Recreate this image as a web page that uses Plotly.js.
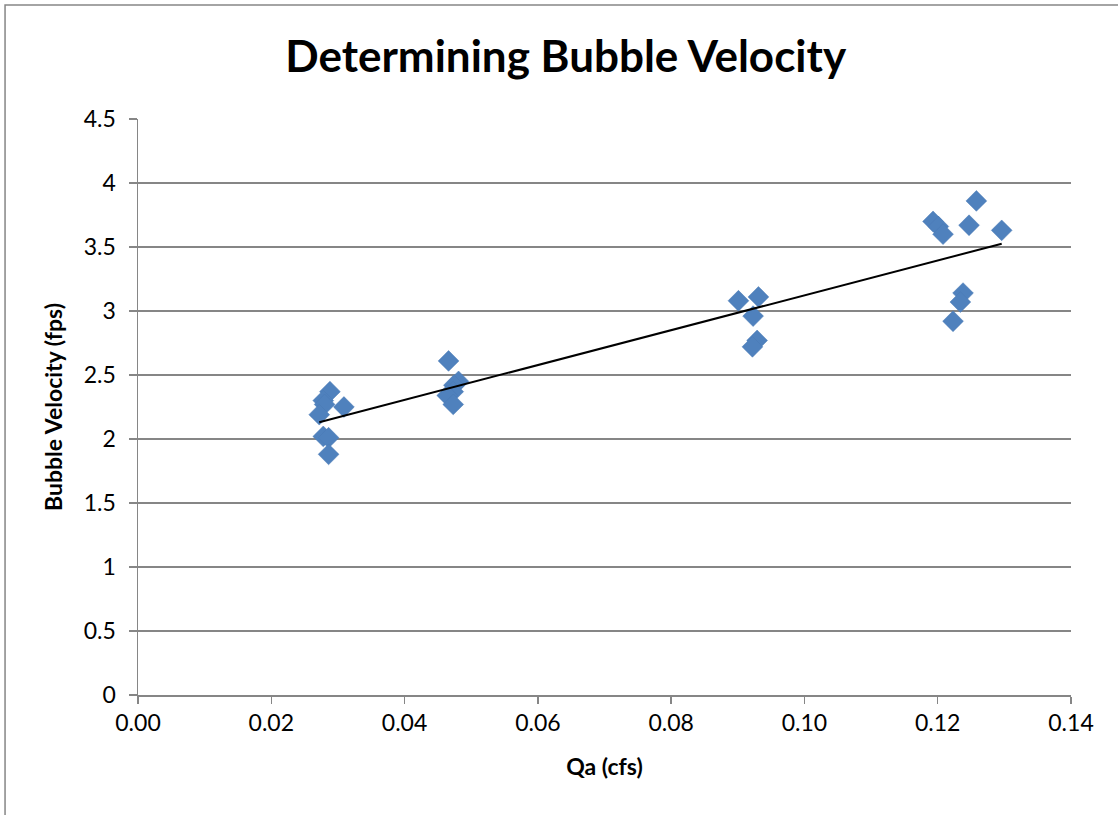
<!DOCTYPE html>
<html>
<head>
<meta charset="utf-8">
<script src="https://cdn.plot.ly/plotly-3.0.1.min.js"></script>
<style>
  html, body { margin: 0; padding: 0; background: #ffffff; }
  #chart { width: 1118px; height: 815px; }
</style>
</head>
<body>
<div id="chart"></div>
<script>
// Measured air flow rate Qa (cfs) and bubble velocity (fps)
const qa = [
  0.0288, 0.0278, 0.0280, 0.0309, 0.0272, 0.0278, 0.0286, 0.0286,
  0.0466, 0.0481, 0.0474, 0.0473, 0.0464, 0.0473,
  0.0901, 0.0931, 0.0923, 0.0929, 0.0922,
  0.1193, 0.1201, 0.1208, 0.1258, 0.1247, 0.1296, 0.1238, 0.1234, 0.1223
];
const velocity = [
  2.37, 2.30, 2.27, 2.25, 2.19, 2.02, 2.01, 1.88,
  2.61, 2.45, 2.42, 2.37, 2.34, 2.27,
  3.08, 3.11, 2.96, 2.77, 2.72,
  3.70, 3.66, 3.60, 3.86, 3.67, 3.63, 3.14, 3.07, 2.92
];
const xTicks = [0, 0.02, 0.04, 0.06, 0.08, 0.10, 0.12, 0.14];
const yTicks = [0, 0.5, 1, 1.5, 2, 2.5, 3, 3.5, 4, 4.5];

// Least-squares linear trendline over the measured range
function linearFit(xs, ys) {
  const n = xs.length;
  const mx = xs.reduce((a, b) => a + b, 0) / n;
  const my = ys.reduce((a, b) => a + b, 0) / n;
  let sxy = 0, sxx = 0;
  for (let i = 0; i < n; i++) {
    sxy += (xs[i] - mx) * (ys[i] - my);
    sxx += (xs[i] - mx) * (xs[i] - mx);
  }
  const slope = sxy / sxx;
  return { slope: slope, intercept: my - slope * mx };
}
const fit = linearFit(qa, velocity);
const xMin = Math.min(...qa), xMax = Math.max(...qa);
const trendX = [xMin, xMax];
const trendY = trendX.map(x => fit.intercept + fit.slope * x);

const FONT = 'Lato, "Open Sans", sans-serif';
const GRID = '#868686';

const data = [
  {
    x: qa, y: velocity, type: 'scatter', mode: 'markers',
    marker: { symbol: 'diamond', size: 16, color: '#4F81BD',
              line: { width: 0.5, color: '#4A7AB5' } },
    hoverinfo: 'x+y', showlegend: false
  },
  {
    x: trendX, y: trendY, type: 'scatter', mode: 'lines',
    line: { color: '#000000', width: 2 },
    hoverinfo: 'skip', showlegend: false
  }
];

const layout = {
  width: 1118, height: 815,
  margin: { l: 138, r: 47, t: 119, b: 120 },
  paper_bgcolor: '#ffffff', plot_bgcolor: '#ffffff',
  font: { family: FONT, color: '#000000', size: 23 },
  title: {
    text: '<b>Determining Bubble Velocity</b>',
    font: { family: FONT, size: 44, color: '#000000' },
    x: 0.506, xanchor: 'center', xref: 'container',
    y: 0.93, yanchor: 'middle', yref: 'container'
  },
  xaxis: {
    range: [0, 0.14], tickvals: xTicks, tickformat: '.2f',
    showgrid: false, zeroline: false,
    showline: true, linecolor: GRID, linewidth: 1.5,
    ticks: 'outside', ticklen: 7, tickcolor: GRID, tickwidth: 1.5,
    tickfont: { family: FONT, size: 23 },
    title: { text: '<b>Qa (cfs)</b>', font: { family: FONT, size: 23 }, standoff: 24 },
    fixedrange: true
  },
  yaxis: {
    range: [0, 4.5], tickvals: yTicks,
    showgrid: true, gridcolor: GRID, gridwidth: 1.5,
    zeroline: false,
    showline: true, linecolor: GRID, linewidth: 1.5,
    ticks: 'outside', ticklen: 8, tickcolor: GRID, tickwidth: 1.5,
    ticklabelstandoff: 8,
    tickfont: { family: FONT, size: 23 },
    title: { text: '<b>Bubble Velocity (fps)</b>', font: { family: FONT, size: 23 }, standoff: 14 },
    fixedrange: true
  },
  shapes: [
    // outer chart frame
    { type: 'rect', xref: 'paper', yref: 'paper',
      x0: -0.1425, x1: 1.1168, y0: -0.23, y1: 1.198,
      line: { color: GRID, width: 1.5 }, fillcolor: 'rgba(0,0,0,0)', layer: 'below' }
  ]
};

Plotly.newPlot('chart', data, layout, { displayModeBar: false, staticPlot: true });
</script>
</body>
</html>
